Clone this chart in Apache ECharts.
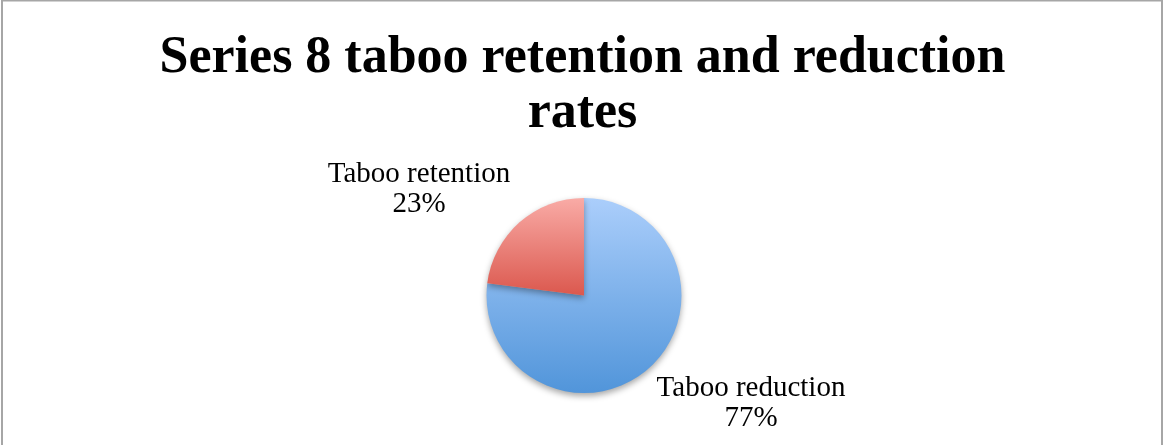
<!DOCTYPE html>
<html>
<head>
<meta charset="utf-8">
<style>
  html, body { margin: 0; padding: 0; background: #ffffff; }
  #chart { width: 1165px; height: 445px; }
</style>
<script src="https://cdn.jsdelivr.net/npm/echarts@6/dist/echarts.min.js"></script>
</head>
<body>
<div id="chart"></div>
<script>
// Slice names and their shares (percent)
const categories = ['Taboo reduction', 'Taboo retention'];
const values = [77, 23];
const chartTitle = 'Series 8 taboo retention and reduction\nrates';

// Vertical gradient per slice: [top colour, bottom colour]
const sliceGradients = [
  ['#abcefb', '#5195da'],
  ['#f9aba6', '#db584e']
];

// Label anchor offsets from the pie centre, one per slice
const labelOffsets = [
  [167, 108],
  [-165, -106]
];

const pieCenter = [584, 295.5];

const chart = echarts.init(document.getElementById('chart'), null, { renderer: 'canvas' });

const data = categories.map((name, i) => ({
  name: name,
  value: values[i],
  itemStyle: {
    color: new echarts.graphic.LinearGradient(0, 0, 0, 1, [
      { offset: 0, color: sliceGradients[i][0] },
      { offset: 1, color: sliceGradients[i][1] }
    ])
  }
}));

chart.setOption({
  animation: false,
  backgroundColor: '#ffffff',
  title: {
    text: chartTitle,
    left: 'center',
    top: 31,
    padding: 0,
    textStyle: {
      fontFamily: 'Liberation Serif',
      fontWeight: 'bold',
      fontSize: 52,
      lineHeight: 55,
      color: '#000000'
    }
  },
  graphic: [{
    type: 'rect',
    shape: { x: 2, y: 0.5, width: 1160, height: 480 },
    style: { fill: 'none', stroke: '#a6a6a6', lineWidth: 2 },
    silent: true
  }],
  series: [{
    type: 'pie',
    center: pieCenter,
    radius: [0, 97.5],
    startAngle: 90,
    clockwise: true,
    data: data,
    itemStyle: {
      borderWidth: 0,
      shadowBlur: 6,
      shadowOffsetY: 3,
      shadowColor: 'rgba(0,0,0,0.35)'
    },
    label: {
      show: true,
      position: 'outside',
      formatter: '{b}\n{d}%',
      fontFamily: 'Liberation Serif',
      fontSize: 29,
      lineHeight: 30,
      color: '#000000',
      align: 'center'
    },
    labelLine: { show: false },
    labelLayout: function (params) {
      const off = labelOffsets[params.dataIndex];
      return {
        x: pieCenter[0] + off[0],
        y: pieCenter[1] + off[1],
        align: 'center',
        verticalAlign: 'middle'
      };
    }
  }]
});
</script>
</body>
</html>
